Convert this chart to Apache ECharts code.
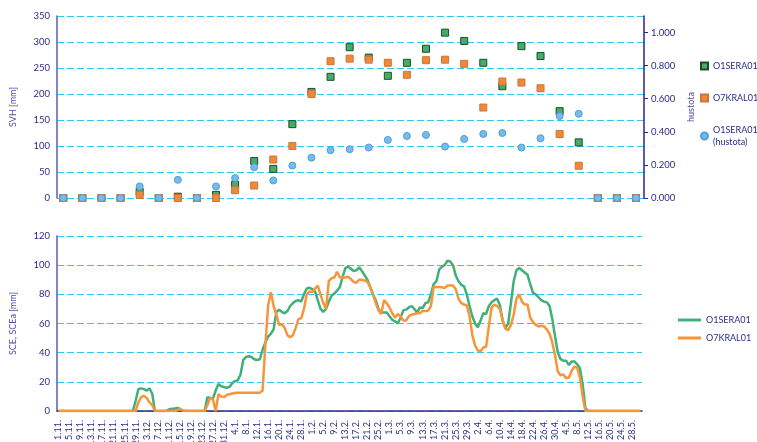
<!DOCTYPE html>
<html><head><meta charset="utf-8">
<script src="https://cdn.jsdelivr.net/npm/echarts@6/dist/echarts.min.js"></script>
<style>html,body{margin:0;padding:0;background:#fff}#c{width:757px;height:442px}</style>
</head><body><div id="c"></div>
<script>
// ---- top chart: weekly snow measurements ----
const svhWeeks = [1,2,3,4,5,6,7,8,9,10,11,12,13,14,15,16,17,18,19,20,21,22,23,24,25,26,27,28,29,30,31];
const svhSera = [0,0,0,0,12,0,2.5,0,6,25.5,71,56,142,204,233,290,270,235,260,287,318,302,260,215,292,273,167,107,0,0,0];
const svhKral = [0,0,0,0,6,0,0,0,0,15,24,74,100,200,263,268,266,260,237,265,266,258,174,224,222,211,123,62,0,0,0];
const hustotaSera = [0,0,0,0,0.070,0,0.110,0,0.070,0.120,0.186,0.106,0.196,0.244,0.289,0.295,0.305,0.351,0.375,0.381,0.311,0.357,0.387,0.393,0.305,0.361,0.495,0.509,0,0,0];

// ---- bottom chart: daily values 1.11. - 31.5. ----
const months = [[11,30],[12,31],[1,31],[2,28],[3,31],[4,30],[5,31]];
const sceSera = [
0,0,0,0,0,0,0,0,0,0,
0,0,0,0,0,0,0,0,0,0,
0,0,0,0,0,0,0,0,7,15,
15.5,15,14,15.5,12,0,0,0,0,0,
1,1.5,1.5,2,1.5,0.5,0,0,0,0,
0,0,0,0,9.5,9,8.5,14,18.5,17,
16.5,16,16.5,19,20.5,21,25,35,37,37.5,
37,35.5,35,35.5,42,47,51,53,56,68,
69.5,68,67,68.5,72,74,75.5,76,75,80,
84,84.5,83.5,82,76,70,68,70,75,79,
80.5,82.5,85,92,98,99,97.5,96,96.5,98.5,
96,93,90,85,80,76,70,67.5,67.5,67.5,
65,62.5,61.5,60,64,69,69.5,71,72,70,
67.5,71,70.5,74,74.5,80,87,89,97,99,
100,103,102.5,100,93,89,86.5,85.5,80,72,
65,60,57.5,62,67,66.5,72,74.5,76,77,
72.5,62,57,60,74,89,96.5,98,96.5,95,
93.5,87,81,80,78,76,75,74.5,72,63,
51,40,35.5,34.5,34.5,31.5,34,34,32,29.5,
18,2,0,0,0,0,0,0,0,0,
0,0,0,0,0,0,0,0,0,0,
0,0];
const sceKral = [
0,0,0,0,0,0,0,0,0,0,
0,0,0,0,0,0,0,0,0,0,
0,0,0,0,0,0,0,0,0,6,
9.5,10.5,9,6,4,0,0,0,0,0,
0,0,0,0.5,1.5,0.5,0,0,0,0,
0,0,0,0,4,9,8,0,11.5,10,
9.5,11,11.5,12,12.3,12.5,12.5,12.5,12.5,12.5,
12.5,12.5,12.5,12.5,14,45,72,81.5,72,66,
59,59.5,57,52,50.5,52,57,63,63.5,70,
80,82,81.5,84,86,80,74,70,89,91,
91.5,95.5,91.5,91.5,91.5,92,90.5,88.5,88,90,
90,89.5,88.5,85,80,74,69,66.5,76,74,
71,67,64,66.5,65,62,62,65,66,66.5,
67,67,68.5,68.5,68.8,72,85,85,85,84.8,
84.3,86,86,86,83.5,77,74,73,72.5,65,
52,45,41.5,41,43.5,44,58,71,73,72,
70,62,56.5,55.5,59,66,77,80,75,73,
73,64,61,59,58,58.5,58,56,53,47,
38,27,24.5,25,22.5,23,27.5,30.5,29.5,23,
10,0,0,0,0,0,0,0,0,0,
0,0,0,0,0,0,0,0,0,0,
0,0];

const days = [];
months.forEach(([m, n]) => { for (let d = 1; d <= n; d++) days.push(d + '.' + m + '.'); });

const legendNames = {
  'SVH_O1SERA01': 'O1SERA01',
  'SVH_O7KRAL01': 'O7KRAL01',
  'HUS_O1SERA01': 'O1SERA01\n(hustota)',
  'SCE_O1SERA01': 'O1SERA01',
  'SCE_O7KRAL01': 'O7KRAL01'
};

const navy = '#2b2d86';
const titleCol = '#5050a4';
const font = 'Lato';
const gridLine = { show: true, lineStyle: { color: '#33c6f3', type: [7, 3], width: 1 } };

const chart = echarts.init(document.getElementById('c'));
chart.setOption({
  animation: false,
  backgroundColor: '#fff',
  textStyle: { fontFamily: font },
  grid: [
    { left: 57, right: 113, top: 16, height: 182, outerBoundsMode: 'none', containLabel: false },
    { left: 57, right: 115, top: 236, height: 175, outerBoundsMode: 'none', containLabel: false }
  ],
  xAxis: [
    { type: 'value', gridIndex: 0, min: 0.67, max: 31.42, show: false },
    { type: 'category', gridIndex: 1, data: days, boundaryGap: true,
      axisLine: { lineStyle: { color: navy, width: 1.5 } },
      axisTick: { show: false },
      splitLine: { show: false },
      axisLabel: { interval: 3, rotate: 90, fontSize: 9, color: navy, margin: 9, fontFamily: font } }
  ],
  yAxis: [
    { type: 'value', gridIndex: 0, min: 0, max: 350, interval: 50,
      name: 'SVH [mm]', nameLocation: 'middle', nameGap: 39, nameRotate: 90,
      nameTextStyle: { color: titleCol, fontSize: 9, fontFamily: font },
      axisLine: { show: true, lineStyle: { color: '#5b5cb2', width: 1.5 } },
      axisTick: { show: false },
      axisLabel: { color: navy, fontSize: 9.5, margin: 7, fontFamily: font },
      splitLine: gridLine },
    { type: 'value', gridIndex: 0, position: 'right', min: 0, max: 1.1, interval: 0.2,
      name: 'hustota', nameLocation: 'middle', nameGap: 38, nameRotate: 90,
      nameTextStyle: { color: titleCol, fontSize: 9, fontFamily: font },
      axisLine: { show: true, lineStyle: { color: '#23239a', width: 1.5 } },
      axisTick: { show: true, inside: false, length: 4, lineStyle: { color: '#23239a' } },
      axisLabel: { color: navy, fontSize: 9.5, margin: 7, fontFamily: font, showMaxLabel: false,
        formatter: v => (v > 1.0001 ? '' : v.toFixed(3)) },
      splitLine: { show: false } },
    { type: 'value', gridIndex: 1, min: 0, max: 120, interval: 20,
      name: 'SCE, SCEa [mm]', nameLocation: 'middle', nameGap: 39, nameRotate: 90,
      nameTextStyle: { color: titleCol, fontSize: 9, fontFamily: font },
      axisLine: { show: true, lineStyle: { color: '#5b5cb2', width: 1.5 } },
      axisTick: { show: false },
      axisLabel: { color: navy, fontSize: 9.5, margin: 7, fontFamily: font },
      splitLine: gridLine }
  ],
  legend: [
    { orient: 'vertical', left: 700, top: 60, padding: 0, itemWidth: 7, itemHeight: 7, itemGap: 20,
      selectedMode: false,
      data: ['SVH_O1SERA01', 'SVH_O7KRAL01', 'HUS_O1SERA01'],
      formatter: n => legendNames[n],
      textStyle: { color: navy, fontSize: 9, fontFamily: font, overflow: 'none', lineHeight: 12 } },
    { orient: 'vertical', left: 678, top: 314, padding: 0, itemWidth: 23, itemHeight: 3, itemGap: 6,
      selectedMode: false, icon: 'rect',
      data: ['SCE_O1SERA01', 'SCE_O7KRAL01'],
      formatter: n => legendNames[n],
      textStyle: { color: navy, fontSize: 9, fontFamily: font, overflow: 'none', lineHeight: 12 } }
  ],
  series: [
    { name: 'SVH_O1SERA01', type: 'scatter', xAxisIndex: 0, yAxisIndex: 0,
      data: svhWeeks.map((w, i) => [w, svhSera[i]]),
      symbol: 'rect', symbolSize: 7,
      itemStyle: { color: '#45ad6b', borderColor: '#1c4d26', borderWidth: 1, opacity: 1 } },
    { name: 'SVH_O7KRAL01', type: 'scatter', xAxisIndex: 0, yAxisIndex: 0,
      data: svhWeeks.map((w, i) => [w, svhKral[i]]),
      symbol: 'rect', symbolSize: 7,
      itemStyle: { color: '#f0883a', borderColor: '#c9773a', borderWidth: 1, opacity: 1 } },
    { name: 'HUS_O1SERA01', type: 'scatter', xAxisIndex: 0, yAxisIndex: 1,
      data: svhWeeks.map((w, i) => [w, hustotaSera[i]]),
      symbol: 'circle', symbolSize: 7,
      itemStyle: { color: '#76bbea', borderColor: '#4f9fd8', borderWidth: 1, opacity: 1 } },
    { name: 'SCE_O1SERA01', type: 'line', xAxisIndex: 1, yAxisIndex: 2,
      data: sceSera, symbol: 'none', smooth: false,
      lineStyle: { color: '#3fb07a', width: 2.5 }, itemStyle: { color: '#3fb07a' } },
    { name: 'SCE_O7KRAL01', type: 'line', xAxisIndex: 1, yAxisIndex: 2,
      data: sceKral, symbol: 'none', smooth: false,
      lineStyle: { color: '#f7953b', width: 2.5 }, itemStyle: { color: '#f7953b' } }
  ]
});
</script>
</body></html>
